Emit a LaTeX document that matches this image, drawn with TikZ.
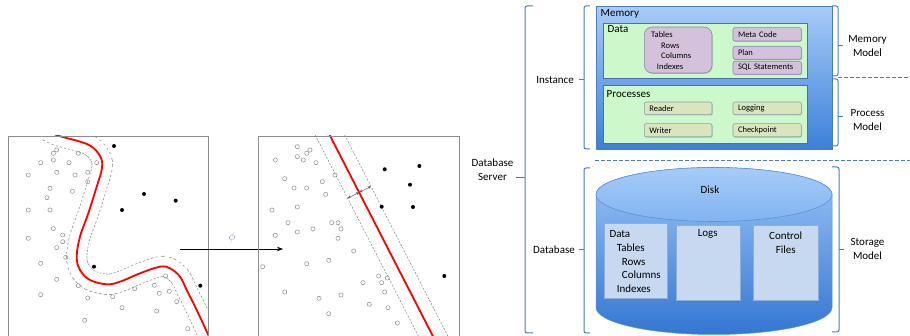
\documentclass[tikz,border=0pt]{standalone}
\usepackage{fontspec}
\setmainfont{Carlito}
\usetikzlibrary{arrows.meta,shadows}
\definecolor{brc}{HTML}{4A7EBB}
\definecolor{memtop}{HTML}{A8CBF7}
\definecolor{membot}{HTML}{3C80DA}
\definecolor{grn}{HTML}{CCF8CC}
\definecolor{grnb}{HTML}{4F6F9F}
\definecolor{purp}{HTML}{D4C2DC}
\definecolor{purpb}{HTML}{8B86A8}
\definecolor{khaki}{HTML}{D9E5BC}
\definecolor{khakib}{HTML}{8CA0B3}
\definecolor{cyltop}{HTML}{9CC4F6}
\definecolor{cylbot}{HTML}{3476D2}
\definecolor{lidtop}{HTML}{A6CCF8}
\definecolor{lidbot}{HTML}{82B3F0}
\definecolor{lidb}{HTML}{5A93D8}
\definecolor{dbox}{HTML}{C6D9F1}
\definecolor{dboxb}{HTML}{8EAED6}
\definecolor{phic}{HTML}{8A95B0}
\begin{document}
\begin{tikzpicture}[x=1pt,y=-1pt,
  opendot/.style={circle,draw=black!45,line width=0.5pt,inner sep=0pt,minimum size=4.2pt},
  filldot/.style={circle,fill=black,inner sep=0pt,minimum size=4pt},
  panel/.style={draw=black!45,line width=0.8pt},
  margin/.style={draw=black!50,line width=0.5pt,dash pattern=on 2pt off 1.5pt},
  brace/.style={draw=brc,line width=1pt,rounded corners=2pt},
  lbl/.style={font=\fontsize{11}{13.8}\selectfont,align=center,inner sep=0pt},
  sep/.style={draw=brc,line width=1pt,dash pattern=on 3.5pt off 2.5pt},
  greenbox/.style={draw=grnb,line width=0.7pt,fill=grn,anchor=north west,inner sep=0pt},
  softshadow/.style={drop shadow={shadow xshift=0.7pt,shadow yshift=-0.9pt,opacity=0.35,fill=black!60}},
  smallbox/.style={anchor=north west,inner ysep=0pt,inner xsep=5pt,align=left,
     font=\fontsize{8.5}{10}\selectfont,rounded corners=2pt,line width=0.6pt,softshadow},
  purpbox/.style={smallbox,fill=purp,draw=purpb},
  procbox/.style={smallbox,fill=khaki,draw=khakib},
  diskbox/.style={fill=dbox,draw=dboxb,line width=0.6pt,anchor=north west,inner sep=0pt,softshadow},
  tinyarrow/.style={black!65,line width=0.5pt,{Stealth[length=3.4pt,width=3pt]}-{Stealth[length=3.4pt,width=3pt]}}
]
\useasboundingbox (0,0) rectangle (910,336);

% ---------------- left panel ----------------
\def\leftcurve{plot[smooth,tension=0.6] coordinates{(48,131) (58.3,135.7) (88,144.5) (100,156) (102,168) (96.7,186.7) (88.3,213.3) (80,236.7) (76.7,256.7) (80,270) (90,280) (106.7,284.3) (120,281.7) (140,273.3) (160,266.7) (170,268.3) (180,276.7) (186.7,290) (196.7,310) (208.3,335) (211,342)}}
\begin{scope}
  \clip (8,136) rectangle (208,345);
  \draw[black!45,line width=21pt,dash pattern=on 2pt off 2pt] \leftcurve;
  \draw[white,line width=19.6pt] \leftcurve;
  \draw[red,line width=1.8pt] \leftcurve;
\end{scope}
\draw[panel] (8,345) -- (8,136) -- (208,136) -- (208,345);
\foreach \x/\y [count=\i] in {56.7/150,53.3/153.3,78.3/153.3,53.3/160,40.7/162.7,69/162.7,96.7/162.7,28.3/175,56.7/172.3,75/175,87.7/172.3,87.7/181.7,50/188.3,72.3/191.3,47/197.7,28.3/210,50/210,53.3/228.7,62.7/235,62.7/241.7,28.3/238.3,56.7/247.7,65.7/257.3,40.7/263.3,56.7/279.3,78.3/285.7,40.7/294.7,87.7/298,112.7/296.7,134.7/288.7,154.3/285.3,165.7/276,159.3/293.3,169.3/291.3,176.7/301.7,122/307.7,156.7/311,84.7/320.3,187.7/328.7}
  \node[opendot] (lo\i) at (\x,\y) {};
\foreach \x/\y [count=\i] in {114/146,144/194,175.7/200.7,122/210,94/266.7,200.3/285.7}
  \node[filldot] (lf\i) at (\x,\y) {};

% ---------------- mapping arrow ----------------
\coordinate (mapS) at (180,249);
\coordinate (mapE) at (283,249);
\draw[line width=0.8pt,-{Stealth[length=6pt,width=4.5pt]}] (mapS) -- (mapE);
\node[text=phic,font=\fontsize{12}{12}\selectfont,inner sep=0pt] (phi) at (232,237.5) {$\phi$};

% ---------------- middle panel ----------------
\begin{scope}
  \clip (258,136) rectangle (459,345);
  \coordinate (lt) at (313.6,132);  \coordinate (lb) at (420.4,340);
  \coordinate (rt) at (343.1,132);  \coordinate (rb) at (449.9,340);
  \coordinate (ct) at (328.1,132);  \coordinate (cb) at (434.9,340);
  \draw[margin] (lt) -- (lb);
  \draw[margin] (rt) -- (rb);
  \draw[red,line width=1.8pt] (ct) -- (cb);
\end{scope}
\draw[panel] (258,345) -- (258,136) -- (459,136) -- (459,345);
\coordinate (mL) at (347.6,198.3);
\coordinate (mC) at (359.3,192.3);
\coordinate (mR) at (371,186.4);
\draw[tinyarrow] (mL) -- (mC);
\draw[tinyarrow] (mC) -- (mR);
\foreach \x/\y [count=\i] in {297.3/146.7,310/150,306.7/153.3,297.3/156.7,303.3/160,275.3/160,316/162.7,335/175,284.7/178.7,322.3/181.7,294/188,306.7/188,325.7/194.3,297.3/207,272/210,288/222.7,331.7/222.7,338/222.7,313/229,341/229,297.3/232,275.3/235.3,338/238.3,353.7/251,262.7/266.7,306.7/263.7,328.7/260.3,378.7/276,387.3/278,381.7/282.7,363/282.7,384.7/292,284.7/292,341/295,319/298.3,369.3/304.3,388/307.7,328.7/313.7,397.3/323}
  \node[opendot] (mo\i) at (\x,\y) {};
\foreach \x/\y [count=\i] in {384.7/169.3,419.3/166,410/184.7,381.7/206.7,413/207,444.3/276}
  \node[filldot] (mf\i) at (\x,\y) {};

% ---------------- braces and labels ----------------
\draw[brace] (533,6) -- (525,6) -- (525,333) -- (533,333);
\draw[brace] (525,178) -- (516,178);
\node[lbl,anchor=east] (dbs) at (513.5,169.5) {Database\\Server};

\draw[brace] (590,6) -- (584,6) -- (584,149) -- (590,149);
\draw[brace] (584,80) -- (579,80);
\node[lbl,anchor=east] (inst) at (574,80) {Instance};

\draw[brace] (590,168) -- (584,168) -- (584,333) -- (590,333);
\draw[brace] (584,250) -- (579,250);
\node[lbl,anchor=east] (dbl) at (575,250) {Database};

\draw[brace] (832,6) -- (838,6) -- (838,76) -- (832,76);
\draw[brace] (838,46) -- (843,46);
\node[lbl] (memm) at (867.5,46) {Memory\\Model};

\draw[brace] (832,79) -- (838,79) -- (838,146) -- (832,146);
\draw[brace] (838,116.5) -- (843,116.5);
\node[lbl] (procm) at (867.5,120) {Process\\Model};

\draw[brace] (832,167) -- (839,167) -- (839,332) -- (832,332);
\draw[brace] (839,250) -- (844,250);
\node[lbl] (storm) at (867.5,249) {Storage\\Model};

\draw[sep] (838,77.5) -- (910,77.5);
\draw[sep] (595,161) -- (910,161);

% ---------------- memory ----------------
\node[draw=brc,line width=0.7pt,top color=memtop,bottom color=membot,anchor=north west,
      inner sep=0pt,minimum width=236pt,minimum height=143.3pt] (mem) at (596,6) {};
\node[lbl,anchor=west] (memt) at (600.5,13.8) {Memory};
\node[greenbox,minimum width=204pt,minimum height=55.6pt] (data) at (603,22.7) {};
\node[lbl,anchor=west] (datat) at (607.5,29) {Data};
\node[purpbox,rounded corners=8pt,minimum width=67.7pt,minimum height=46pt] (tabs) at (644,26.7) {};
\node[anchor=west,inner sep=0pt,align=left,font=\fontsize{8.5}{10.8}\selectfont] (tabst) at (651,50.5)
  {Tables\\\hspace*{10pt}Rows\\\hspace*{10pt}Columns\\\hspace*{5.7pt}Indexes};
\node[purpbox,text width=58.3pt,minimum height=13.4pt] (meta) at (732.7,27.3) {Meta Code};
\node[purpbox,text width=58.3pt,minimum height=13pt] (plan) at (732.7,46) {Plan};
\node[purpbox,text width=58.3pt,minimum height=13pt] (sqls) at (732.7,61) {SQL Statements};

\node[greenbox,minimum width=204pt,minimum height=57.7pt] (procs) at (603,85) {};
\node[lbl,anchor=west] (procst) at (606.5,94.2) {Processes};
\node[procbox,text width=57.7pt,minimum height=12.6pt] (reader) at (644,101.7) {Reader};
\node[procbox,text width=57.7pt,minimum height=13.2pt] (writer) at (644,123.3) {Writer};
\node[procbox,text width=58.3pt,minimum height=12.6pt] (logging) at (732.7,101.7) {Logging};
\node[procbox,text width=58.3pt,minimum height=13.2pt] (ckpt) at (732.7,123.3) {Checkpoint};

% ---------------- disk ----------------
\shade[top color=cyltop,bottom color=cylbot,draw=lidb,line width=0.5pt]
  (596,194.5) -- (596,307.5) arc[start angle=180,end angle=0,x radius=118,y radius=27]
  -- (832,194.5) arc[start angle=0,end angle=-180,x radius=118,y radius=27] -- cycle;
\shade[top color=lidtop,bottom color=lidbot,draw=lidb,line width=0.6pt]
  (714,194.5) ellipse[x radius=118,y radius=27];
\node[lbl] (disk) at (710,190) {Disk};
\node[diskbox,minimum width=63.3pt,minimum height=75pt] (ddata) at (604,223.3) {};
\node[anchor=west,inner sep=0pt,align=left,font=\fontsize{11}{13.8}\selectfont] (ddatat) at (609.3,261.7)
  {Data\\\hspace*{7.4pt}Tables\\\hspace*{12.4pt}Rows\\\hspace*{12.4pt}Columns\\\hspace*{7.4pt}Indexes};
\node[diskbox,minimum width=64pt,minimum height=75.5pt] (dlogs) at (675.7,225) {};
\node[lbl] (dlogst) at (707.7,234.3) {Logs};
\node[diskbox,minimum width=64.4pt,minimum height=75pt] (dctl) at (753.3,225) {};
\node[lbl] (dctlt) at (785.7,242.7) {Control\\Files};
\end{tikzpicture}
\end{document}
